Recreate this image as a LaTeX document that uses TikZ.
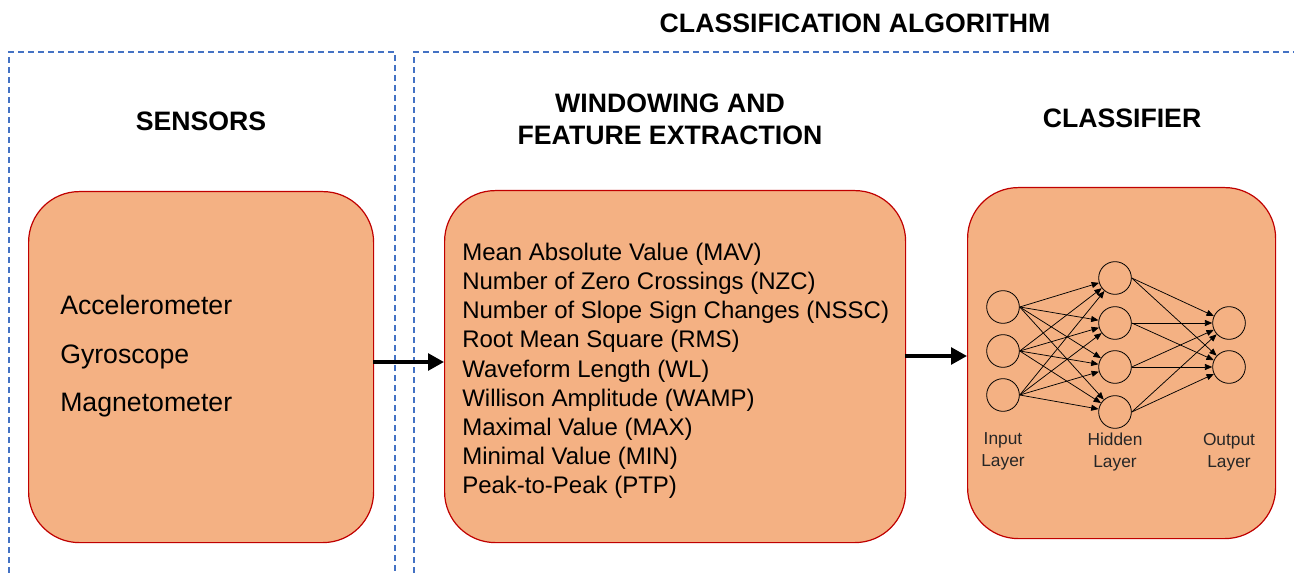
\documentclass[tikz,border=0pt]{standalone}
\usepackage{fontspec}
\setmainfont{Liberation Sans}
\usetikzlibrary{arrows.meta,positioning}
\definecolor{boxfill}{HTML}{F4B183}
\definecolor{boxline}{HTML}{C00000}
\definecolor{dashblue}{HTML}{4472C4}
\tikzset{
  panel/.style={draw=boxline, line width=0.9pt, fill=boxfill, rounded corners=38pt, anchor=north west, inner sep=0pt},
  frame/.style={draw=dashblue, line width=0.8pt, dash pattern=on 4.5pt off 3pt},
  heading/.style={font=\fontsize{20}{24}\selectfont\bfseries, align=center},
  sensortext/.style={font=\fontsize{20}{24}\selectfont, anchor=base west, inner sep=0pt},
  featuretext/.style={font=\fontsize{18}{21.83}\selectfont, align=left, anchor=north west, inner sep=0pt},
  neuron/.style={circle, draw=black, line width=0.6pt, minimum size=24.5pt, inner sep=0pt},
  synapse/.style={draw=black, line width=0.55pt, -{Triangle[length=5.5pt,width=4.5pt]}},
  layerlabel/.style={font=\fontsize{13}{16.5}\selectfont, align=center, text=black!85},
  bigarrow/.style={draw=black, line width=2.8pt, -{Triangle[length=12pt,width=12.5pt]}}
}
\begin{document}
\begin{tikzpicture}[x=0.75pt,y=-0.75pt]
\useasboundingbox (0,0) rectangle (1294,573);
% dashed frames
\coordinate (fl1) at (9,573); \coordinate (fl2) at (9,52); \coordinate (fl3) at (395,52); \coordinate (fl4) at (395,573);
\draw[frame] (fl1) -- (fl2) -- (fl3) -- (fl4);
\coordinate (fr1) at (414,573); \coordinate (fr2) at (414,52); \coordinate (fr3) at (1294,52);
\draw[frame] (fr1) -- (fr2) -- (fr3);
% headings
\node[heading] (hclass) at (855,23) {CLASSIFICATION ALGORITHM};
\node[heading] (hsens) at (201,121) {SENSORS};
\node[heading] (hfeat) at (670,119) {WINDOWING AND\\FEATURE EXTRACTION};
\node[heading] (hclf) at (1122,118) {CLASSIFIER};
% panels
\node[panel, minimum width=258.75pt, minimum height=263.25pt] (sens) at (28,191) {};
\node[panel, minimum width=345.75pt, minimum height=264pt] (feat) at (444,190) {};
\node[panel, minimum width=231pt, minimum height=263.25pt] (clf) at (967,187) {};
% sensor text
\node[sensortext] (acc) at (60,315) {Accelerometer};
\node[sensortext] (gyr) at (60,363) {Gyroscope};
\node[sensortext] (mag) at (60,411) {Magnetometer};
% feature list
\node[featuretext] (flist) at (462,243) {Mean Absolute Value (MAV)\\Number of Zero Crossings (NZC)\\Number of Slope Sign Changes (NSSC)\\Root Mean Square (RMS)\\Waveform Length (WL)\\Willison Amplitude (WAMP)\\Maximal Value (MAX)\\Minimal Value (MIN)\\Peak-to-Peak (PTP)};
% big arrows
\coordinate (a1s) at (373,362); \coordinate (a1e) at (444,362);
\draw[bigarrow] (a1s) -- (a1e);
\coordinate (a2s) at (905,356); \coordinate (a2e) at (967,356);
\draw[bigarrow] (a2s) -- (a2e);
% neural network
\node[neuron] (i1) at (1003,307) {};
\node[neuron] (i2) at (1003,351) {};
\node[neuron] (i3) at (1003,395) {};
\node[neuron] (h1) at (1115,278) {};
\node[neuron] (h2) at (1115,323) {};
\node[neuron] (h3) at (1115,367) {};
\node[neuron] (h4) at (1115,412) {};
\node[neuron] (o1) at (1229,323) {};
\node[neuron] (o2) at (1229,367) {};
\foreach \i in {i1,i2,i3}{\foreach \h in {h1,h2,h3,h4}{\draw[synapse] (\i.east) -- (\h);}}
\foreach \h in {h1,h2,h3,h4}{\foreach \o in {o1,o2}{\draw[synapse] (\h.east) -- (\o);}}
\node[layerlabel] (li) at (1003,451) {Input\\Layer};
\node[layerlabel] (lh) at (1115,452) {Hidden\\Layer};
\node[layerlabel] (lo) at (1229,452) {Output\\Layer};
\end{tikzpicture}
\end{document}
